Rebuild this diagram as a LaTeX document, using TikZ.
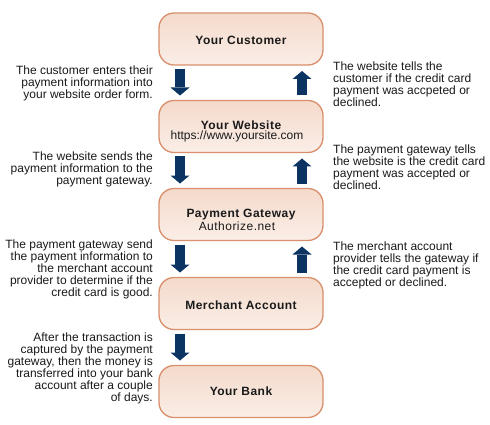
\documentclass[tikz,border=0pt]{standalone}
\usepackage{fontspec}
\setmainfont{Liberation Sans}
\newfontfamily\boxfont[LetterSpace=4]{Liberation Sans}
\newfontfamily\urlfont{Liberation Sans}
\usetikzlibrary{arrows.meta}
\definecolor{boxborder}{HTML}{D98F6B}
\definecolor{boxtop}{HTML}{F4DACB}
\definecolor{boxbot}{HTML}{FAEEE7}
\definecolor{navy}{HTML}{0B3462}
\definecolor{txt}{HTML}{1A1A1A}
\begin{document}
\begin{tikzpicture}[x=1pt,y=-1pt,
  stepbox/.style={draw=boxborder, line width=1.3pt, rounded corners=15pt,
    top color=boxtop, bottom color=boxbot, minimum width=164pt,
    minimum height=52pt, inner sep=0pt, outer sep=0pt},
  boxtitle/.style={font={\boxfont\bfseries\fontsize{12}{12}\selectfont},
    text=txt, inner sep=0pt, anchor=base},
  boxsub/.style={font={\boxfont\fontsize{12}{12}\selectfont},
    text=txt, inner sep=0pt, anchor=base},
  lnote/.style={font={\fontsize{12}{12}\selectfont}, text=txt,
    align=right, anchor=north east, inner sep=0pt},
  rnote/.style={font={\fontsize{12}{12}\selectfont}, text=txt,
    align=left, anchor=north west, inner sep=0pt},
  flow/.style={draw=navy, line width=10pt,
    -{Triangle[width=19pt,length=8pt,line width=0pt]}}
]
\fill[white] (0,0) rectangle (490,425);
\useasboundingbox (0,0) rectangle (490,425);

% boxes
\node[stepbox] (cust) at (241,39) {};
\node[stepbox] (web)  at (241,126.5) {};
\node[stepbox] (gate) at (241,214.5) {};
\node[stepbox] (merch) at (241,303.5) {};
\node[stepbox] (bank) at (241,391.5) {};

% box texts
\node[boxtitle] (custt) at (241,45) {Your Customer};
\node[boxtitle] (webt) at (241,129.3) {Your Website};
\node[boxsub, font={\urlfont\fontsize{12}{12}\selectfont}] (webs) at (237,140) {https://www.yoursite.com};
\node[boxtitle] (gatet) at (241,217.3) {Payment Gateway};
\node[boxsub] (gates) at (237,230.8) {Authorize.net};
\node[boxtitle] (mercht) at (241,309.3) {Merchant Account};
\node[boxtitle] (bankt) at (241,395.3) {Your Bank};

% arrows
\draw[flow] ([xshift=-61pt,yshift=-4pt]cust.south) -- ([xshift=-61pt,yshift=5pt]web.north);
\draw[flow] ([xshift=61pt,yshift=5pt]web.north) -- ([xshift=61pt,yshift=-6pt]cust.south);
\draw[flow] ([xshift=-61pt,yshift=-4pt]web.south) -- ([xshift=-61pt,yshift=5pt]gate.north);
\draw[flow] ([xshift=61pt,yshift=5pt]gate.north) -- ([xshift=61pt,yshift=-6pt]web.south);
\draw[flow] ([xshift=-61pt,yshift=-4pt]gate.south) -- ([xshift=-61pt,yshift=5pt]merch.north);
\draw[flow] ([xshift=61pt,yshift=5pt]merch.north) -- ([xshift=61pt,yshift=-6pt]gate.south);
\draw[flow] ([xshift=-61pt,yshift=-4pt]merch.south) -- ([xshift=-61pt,yshift=5pt]bank.north);

% notes left
\node[lnote] (n1) at (153,66) {The customer enters their\\payment information into\\your website order form.};
\node[lnote] (n2) at (153,152) {The website sends the\\payment information to the\\payment gateway.};
\node[lnote] (n3) at (153,240) {The payment gateway send\\the payment information to\\the merchant account\\provider to determine if the\\credit card is good.};
\node[lnote] (n4) at (153,333) {After the transaction is\\captured by the payment\\gateway, then the money is\\transferred into your bank\\account after a couple\\of days.};

% notes right
\node[rnote] (n5) at (333,62) {The website tells the\\customer if the credit card\\payment was accpeted or\\declined.};
\node[rnote] (n6) at (333,145) {The payment gateway tells\\the website is the credit card\\payment was accepted or\\declined.};
\node[rnote] (n7) at (333,242) {The merchant account\\provider tells the gateway if\\the credit card payment is\\accepted or declined.};
\end{tikzpicture}
\end{document}
